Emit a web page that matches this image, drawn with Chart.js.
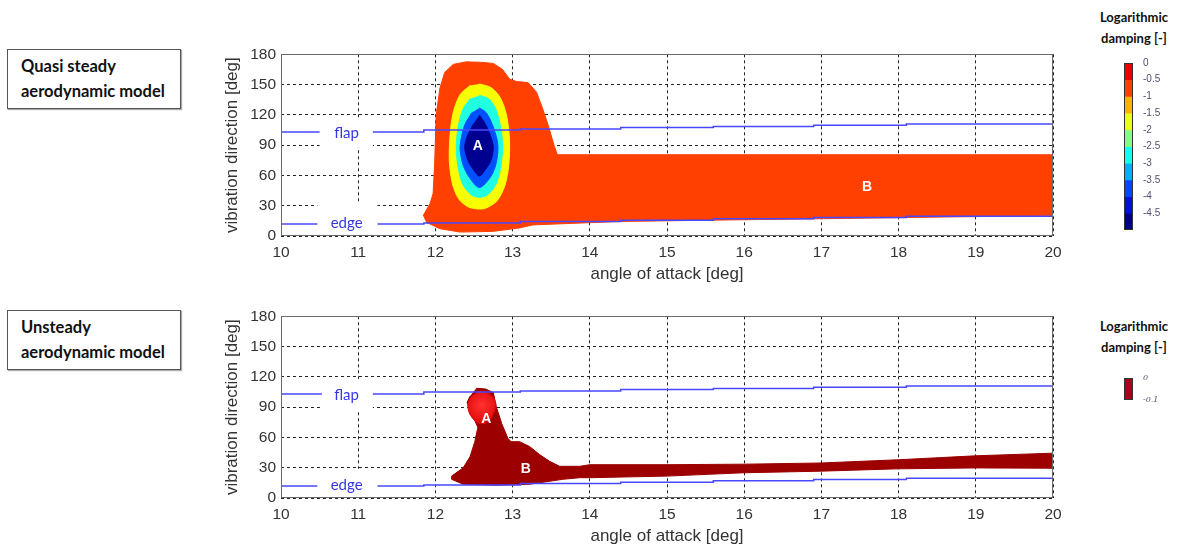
<!DOCTYPE html>
<html>
<head>
<meta charset="utf-8">
<script src="https://cdn.jsdelivr.net/npm/chart.js@4.4.1/dist/chart.umd.min.js"></script>
<style>
    body { margin: 0; width: 1177px; height: 547px; background: #fff; position: relative; overflow: hidden; font-family: Lato, sans-serif; }
    canvas { position: absolute; }
    .model { position: absolute; left: 7px; width: 159px; height: 54px; padding: 4px 0 0 13px; border: 1px solid #555; box-shadow: 1px 1px 1px #aaa; font-weight: 700; font-size: 16.5px; line-height: 25px; color: #111; }
    .cbtitle { position: absolute; left: 1089px; width: 90px; text-align: center; font-weight: 700; font-size: 13px; line-height: 21px; color: #111; }
</style>
</head>
<body>
<div class="model" style="top:49px">Quasi steady<br>aerodynamic model</div>
<div class="model" style="top:310px">Unsteady<br>aerodynamic model</div>
<div class="cbtitle" style="top:7px">Logarithmic<br>damping [-]</div>
<div class="cbtitle" style="top:316px">Logarithmic<br>damping [-]</div>

<canvas id="quasiChart" width="870" height="250" style="left:200px;top:40px"></canvas>
<canvas id="unsteadyChart" width="870" height="250" style="left:200px;top:302px"></canvas>
<canvas id="quasiBar" width="67" height="185" style="left:1110px;top:55px"></canvas>
<canvas id="unsteadyBar" width="67" height="40" style="left:1110px;top:370px"></canvas>

<script>
// mode lines (angle of attack, vibration direction)
const flapLine = [[10, 101], [11.85, 103], [13.1, 105], [14.4, 106], [15.6, 107.5], [16.9, 108.5], [18.1, 109.8], [19.4, 111], [20, 111]];
const edgeLine = [[10, 9.5], [11.85, 12], [13.1, 13], [14.4, 14.4], [15.6, 15.7], [16.9, 17], [18.1, 18.3], [19.4, 19.6], [20, 19.6]];

// quasi steady contours, outer to inner
const qsOuter = [[11.84, 20], [11.93, 32], [11.97, 42], [11.99, 71], [12.01, 120], [12.06, 147], [12.12, 162], [12.23, 170], [12.4, 172.5],
    [12.6, 172], [12.75, 171], [12.87, 165], [12.96, 155.5], [13.05, 153], [13.2, 152], [13.31, 142.5], [13.39, 126], [13.46, 110],
    [13.54, 89], [13.58, 80.5], [20, 80.5], [20, 20], [19.4, 19.6], [18.1, 18.3], [16.9, 17], [15.6, 15.7], [14.4, 14.4], [13.26, 11],
    [13.09, 8], [12.75, 4.6], [12.32, 3.9], [12.06, 7.2], [11.88, 13.7]];
const qsYellow = [[12.57, 150.7], [12.72, 147], [12.84, 137], [12.92, 120], [12.96, 95], [12.95, 70], [12.9, 50], [12.8, 35], [12.65, 27.5],
    [12.55, 26.8], [12.42, 29], [12.3, 37], [12.22, 52], [12.18, 75], [12.19, 100], [12.23, 122], [12.32, 140], [12.45, 149]];
const qsCyan = [[12.57, 139.3], [12.69, 136], [12.78, 126], [12.84, 110], [12.87, 90], [12.85, 70], [12.79, 52], [12.68, 41], [12.57, 38.2],
    [12.46, 41], [12.35, 52], [12.29, 70], [12.27, 90], [12.3, 110], [12.36, 126], [12.45, 136]];
const qsBlue = [[12.57, 126.9], [12.66, 122], [12.74, 110], [12.8, 95], [12.81, 85], [12.78, 70], [12.71, 58], [12.57, 48], [12.44, 58],
    [12.36, 70], [12.32, 85], [12.33, 95], [12.38, 110], [12.47, 122]];
const qsNavy = [[12.57, 119.8], [12.64, 112], [12.71, 100], [12.75, 88], [12.72, 75], [12.65, 66], [12.57, 59.4], [12.49, 66], [12.42, 75],
    [12.38, 88], [12.42, 100], [12.5, 112]];

// unsteady contours
const usRegion = [[12.53, 108.7], [12.65, 108], [12.75, 104.4], [12.79, 90], [12.86, 73.6], [12.94, 59], [12.98, 55.8], [13.09, 55.8],
    [13.22, 51], [13.35, 43], [13.48, 36.3], [13.61, 31.4], [13.87, 31.4], [14, 33], [15, 33], [16, 33.5], [17, 34.7], [18, 37.9],
    [19, 41.8], [20, 44.4], [20, 29.5], [19, 29.8], [18, 28.9], [17, 26.6], [16, 25], [15, 21.7], [14, 20.1], [13.87, 20.1],
    [13.65, 18.5], [13.22, 13.6], [12.79, 12.6], [12.36, 13.6], [12.21, 18.5], [12.21, 21.7], [12.36, 29.9], [12.45, 41.2],
    [12.51, 55.8], [12.55, 70], [12.49, 80], [12.41, 94.7], [12.45, 101]];
const usCore = [[12.58, 106], [12.7, 103], [12.78, 95], [12.76, 85], [12.7, 77], [12.62, 73.6], [12.52, 76], [12.44, 84], [12.42, 93], [12.47, 101]];

// colour bars
const cbTicks = [0, -0.5, -1, -1.5, -2, -2.5, -3, -3.5, -4, -4.5];
const cbColors = ['#f00000', '#ff4000', '#ffb000', '#e8ff18', '#80ff80', '#10fff0', '#00b0ff', '#0048ff', '#0010d8', '#000088'];
const usTicks = [0, -0.1];

const pts = a => a.map(([x, y]) => ({x, y}));

function area(data, color, tension) {
    return {data: pts(data), showLine: true, fill: 'shape', backgroundColor: color, borderColor: color,
        borderWidth: 1, pointRadius: 0, tension: tension || 0};
}

function mode(data) {
    return {data: pts(data), showLine: true, fill: false, borderColor: '#4848ff', borderWidth: 1.5,
        pointRadius: 0, stepped: 'after'};
}

// bright core of region A, lighter in the middle
function coreFill(c) {
    const chart = c.chart;
    const x = chart.scales.x, y = chart.scales.y;
    if (!x || !y || !chart.chartArea) return '#ee1515';
    const cx = x.getPixelForValue(12.6), cy = y.getPixelForValue(92);
    const g = chart.ctx.createRadialGradient(cx, cy, 1, cx, cy, 18);
    g.addColorStop(0, '#ff3030');
    g.addColorStop(1, '#e00808');
    return g;
}

function overlay(cfg) {
    return {
        id: 'overlay',
        afterDraw(chart) {
            const {ctx, chartArea: a} = chart;
            const x = chart.scales.x, y = chart.scales.y;
            ctx.save();
            (cfg.boxes || []).forEach(b => {
                const l = x.getPixelForValue(b.x0), r = x.getPixelForValue(b.x1);
                const t = y.getPixelForValue(b.y1), btm = y.getPixelForValue(b.y0);
                ctx.fillStyle = '#fff';
                ctx.fillRect(l, t, r - l, btm - t);
                ctx.fillStyle = '#3636e0';
                ctx.font = '15px Lato';
                ctx.textAlign = 'center';
                ctx.textBaseline = 'middle';
                ctx.fillText(b.text, x.getPixelForValue(b.tx), y.getPixelForValue(b.ty));
            });
            (cfg.marks || []).forEach(m => {
                ctx.fillStyle = '#fff';
                ctx.font = 'bold 14px "Liberation Sans"';
                ctx.textAlign = 'center';
                ctx.textBaseline = 'middle';
                ctx.fillText(m.text, x.getPixelForValue(m.x), y.getPixelForValue(m.y));
            });
            ctx.strokeStyle = cfg.frame;
            ctx.lineWidth = 1;
            ctx.strokeRect(Math.round(a.left) + 0.5, Math.round(a.top) + 0.5, Math.round(a.width) - 1, Math.round(a.height) - 1);
            ctx.restore();
        }
    };
}

const tickFont = {family: '"Liberation Sans", Arial', size: 15.5};
const titleFont = {family: '"Liberation Sans", Arial', size: 17};

function plotOptions() {
    return {
        responsive: false, animation: false, events: [], devicePixelRatio: 1,
        layout: {padding: {left: 21, right: 17, top: 12, bottom: 4}},
        plugins: {legend: {display: false}, tooltip: {enabled: false}},
        scales: {
            x: {
                type: 'linear', min: 10, max: 20, z: 1,
                afterFit: s => { s.height = 50; },
                ticks: {stepSize: 1, padding: 7, color: '#333', font: tickFont},
                grid: {color: '#222', lineWidth: 1, drawTicks: false},
                border: {display: false, dash: [3, 3]},
                title: {display: true, text: 'angle of attack [deg]', color: '#333', font: titleFont, padding: {top: 0, bottom: 1}}
            },
            y: {
                type: 'linear', min: 0, max: 180, z: 1,
                afterFit: s => { s.width = 60; },
                ticks: {stepSize: 30, padding: 5, color: '#333', font: tickFont},
                grid: {color: '#222', lineWidth: 1, drawTicks: false},
                border: {display: false, dash: [3, 3]},
                title: {display: true, text: 'vibration direction [deg]', color: '#333', font: titleFont, padding: {top: 1, bottom: 0}}
            }
        }
    };
}

new Chart(document.getElementById('quasiChart'), {
    type: 'scatter',
    data: {datasets: [
        mode(flapLine), mode(edgeLine),
        area(qsNavy, '#000090', 0.3), area(qsBlue, '#0050ff', 0.3), area(qsCyan, '#20ffe0', 0.3),
        area(qsYellow, '#f8ff00', 0.3), area(qsOuter, '#ff4000', 0)
    ]},
    options: plotOptions(),
    plugins: [overlay({
        frame: '#6a6a6a',
        boxes: [
            {text: 'flap', x0: 10.5, x1: 11.19, y0: 88, y1: 116, tx: 10.85, ty: 101.5},
            {text: 'edge', x0: 10.47, x1: 11.25, y0: 1, y1: 33, tx: 10.85, ty: 12.5}
        ],
        marks: [{text: 'A', x: 12.55, y: 88.7}, {text: 'B', x: 17.59, y: 48.6}]
    })]
});

const coreSet = area(usCore, '#ee1515', 0.3);
coreSet.backgroundColor = coreFill;
coreSet.borderColor = '#e00808';

new Chart(document.getElementById('unsteadyChart'), {
    type: 'scatter',
    data: {datasets: [
        mode(flapLine), mode(edgeLine),
        coreSet, area(usRegion, '#9c0000', 0)
    ]},
    options: plotOptions(),
    plugins: [overlay({
        frame: '#6a6a6a',
        boxes: [
            {text: 'flap', x0: 10.53, x1: 11.19, y0: 87, y1: 118, tx: 10.85, ty: 101.5},
            {text: 'edge', x0: 10.47, x1: 11.25, y0: 1, y1: 29, tx: 10.85, ty: 12.5}
        ],
        marks: [{text: 'A', x: 12.66, y: 77.8}, {text: 'B', x: 13.17, y: 28.2}]
    })]
});

function barOptions(lo, step, font, hideLo) {
    return {
        responsive: false, animation: false, events: [], devicePixelRatio: 1,
        layout: {padding: {left: 14, right: 4, top: 8, bottom: 10}},
        plugins: {legend: {display: false}, tooltip: {enabled: false}},
        scales: {
            x: {display: false, stacked: true},
            y: {
                position: 'right', stacked: true, min: lo, max: 0,
                afterFit: s => { s.width = 40; },
                ticks: {stepSize: step, padding: 2, color: '#505070', font: font,
                    callback: v => (hideLo && v === lo) ? '' : v},
                grid: {display: false}, border: {display: false}
            }
        }
    };
}

new Chart(document.getElementById('quasiBar'), {
    type: 'bar',
    data: {labels: [''], datasets: cbTicks.map((t, i) => ({
        data: [(cbTicks[i + 1] !== undefined ? cbTicks[i + 1] : -5) - t], backgroundColor: cbColors[i],
        barPercentage: 1, categoryPercentage: 1, borderWidth: 0
    }))},
    options: barOptions(-5, 0.5, {family: '"Liberation Sans", Arial', size: 10}, true),
    plugins: [overlay({frame: '#333'})]
});

new Chart(document.getElementById('unsteadyBar'), {
    type: 'bar',
    data: {labels: [''], datasets: [{
        data: [usTicks[1] - usTicks[0]], backgroundColor: '#a8001e',
        barPercentage: 1, categoryPercentage: 1, borderWidth: 0
    }]},
    options: barOptions(usTicks[1], 0.1, {family: '"DejaVu Serif", serif', size: 8, style: 'italic'}, false),
    plugins: [overlay({frame: '#333'})]
});
</script>
</body>
</html>
